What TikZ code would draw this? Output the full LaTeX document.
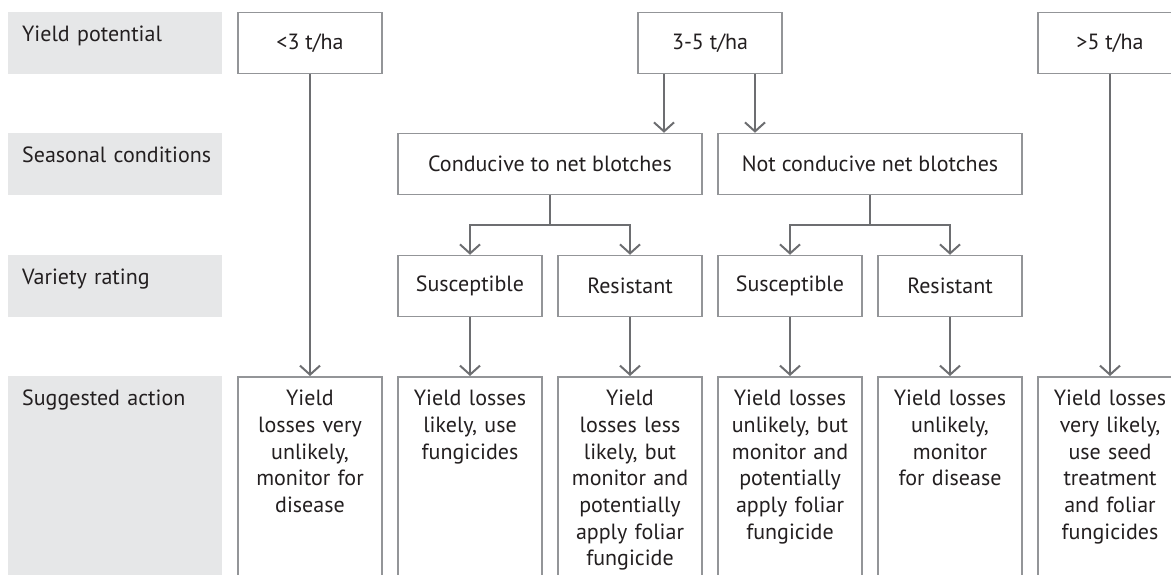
\documentclass[tikz,border=0pt]{standalone}
\usepackage{fontspec}
\setmainfont{PT Sans}
\usetikzlibrary{arrows.meta,positioning,calc}
\definecolor{labfill}{HTML}{E6E7E8}
\definecolor{boxline}{HTML}{939598}
\definecolor{arrline}{HTML}{6D6E71}
\definecolor{inktext}{HTML}{231F20}
\tikzset{
  rowlab/.style={fill=labfill, anchor=north west, text width=212pt, align=left,
    inner xsep=1pt, inner ysep=13pt, text height=16pt, text depth=#1,
    execute at begin node=\hspace*{13pt},
    font=\fontsize{22}{26.7}\selectfont, text=inktext},
  rowlab/.default=20pt,
  choice/.style={draw=boxline, line width=1.5pt, fill=white, minimum width=144pt,
    minimum height=61pt, inner sep=0pt, font=\fontsize{22}{26.7}\selectfont, text=inktext},
  widechoice/.style={choice, minimum width=304pt},
  actbox/.style={draw=boxline, line width=1.5pt, fill=white, anchor=north, align=center,
    text width=132pt, inner xsep=6pt, inner ysep=13pt, text height=16pt, text depth=230pt,
    font=\fontsize{22}{26.7}\selectfont, text=inktext},
  arr/.style={-{Straight Barb[length=9pt, width=20pt]}, line width=2pt, draw=arrline},
  fork/.style={line width=2pt, draw=arrline}
}
\begin{document}
\begin{tikzpicture}[x=1pt,y=-1pt]
  \useasboundingbox (0,0) rectangle (1171,575);
  \clip (0,0) rectangle (1171,575);
  % row labels
  \node[rowlab] (rowyield) at (8,12) {Yield potential};
  \node[rowlab] (rowseason) at (8,133) {Seasonal conditions};
  \node[rowlab] (rowvariety) at (8,255) {Variety rating};
  \node[rowlab=230pt] (rowaction) at (8,376) {Suggested action};
  % yield potential
  \node[choice] (lowyield) at (310,43) {<3 t/ha};
  \node[choice] (midyield) at (710,43) {3-5 t/ha};
  \node[choice] (highyield) at (1110,43) {>5 t/ha};
  % seasonal conditions
  \node[widechoice] (cond) at (550,164) {Conducive to net blotches};
  \node[widechoice] (notcond) at (870,164) {Not conducive net blotches};
  % variety rating
  \node[choice] (condsus) at (470,286) {Susceptible};
  \node[choice] (condres) at (630,286) {Resistant};
  \node[choice] (notsus) at (790,286) {Susceptible};
  \node[choice] (notres) at (950,286) {Resistant};
  % suggested action
  \node[actbox] (actlow) at (310,376) {Yield\\losses very\\unlikely,\\monitor for\\disease};
  \node[actbox] (actcondsus) at (470,376) {Yield losses\\likely, use\\fungicides};
  \node[actbox] (actcondres) at (630,376) {Yield\\losses less\\likely, but\\monitor and\\potentially\\apply foliar\\fungicide};
  \node[actbox] (actnotsus) at (790,376) {Yield losses\\unlikely, but\\monitor and\\potentially\\apply foliar\\fungicide};
  \node[actbox] (actnotres) at (950,376) {Yield losses\\unlikely,\\monitor\\for disease};
  \node[actbox] (acthigh) at (1110,376) {Yield losses\\very likely,\\use seed\\treatment\\and foliar\\fungicides};
  % connectors
  \draw[arr] (lowyield.south) -- (actlow.north);
  \draw[arr] (highyield.south) -- (acthigh.north);
  \draw[arr] ([xshift=-46pt]midyield.south) coordinate (midleft) -- (midleft |- cond.north);
  \draw[arr] ([xshift=45pt]midyield.south) coordinate (midright) -- (midright |- notcond.north);
  \draw[fork] (cond.south) -- ++(0,30) coordinate (condfork);
  \draw[arr] (condfork) -| (condsus.north);
  \draw[arr] (condfork) -| (condres.north);
  \draw[fork] (notcond.south) -- ++(0,30) coordinate (notfork);
  \draw[arr] (notfork) -| (notsus.north);
  \draw[arr] (notfork) -| (notres.north);
  \draw[arr] (condsus.south) -- (actcondsus.north);
  \draw[arr] (condres.south) -- (actcondres.north);
  \draw[arr] (notsus.south) -- (actnotsus.north);
  \draw[arr] (notres.south) -- (actnotres.north);
\end{tikzpicture}
\end{document}
